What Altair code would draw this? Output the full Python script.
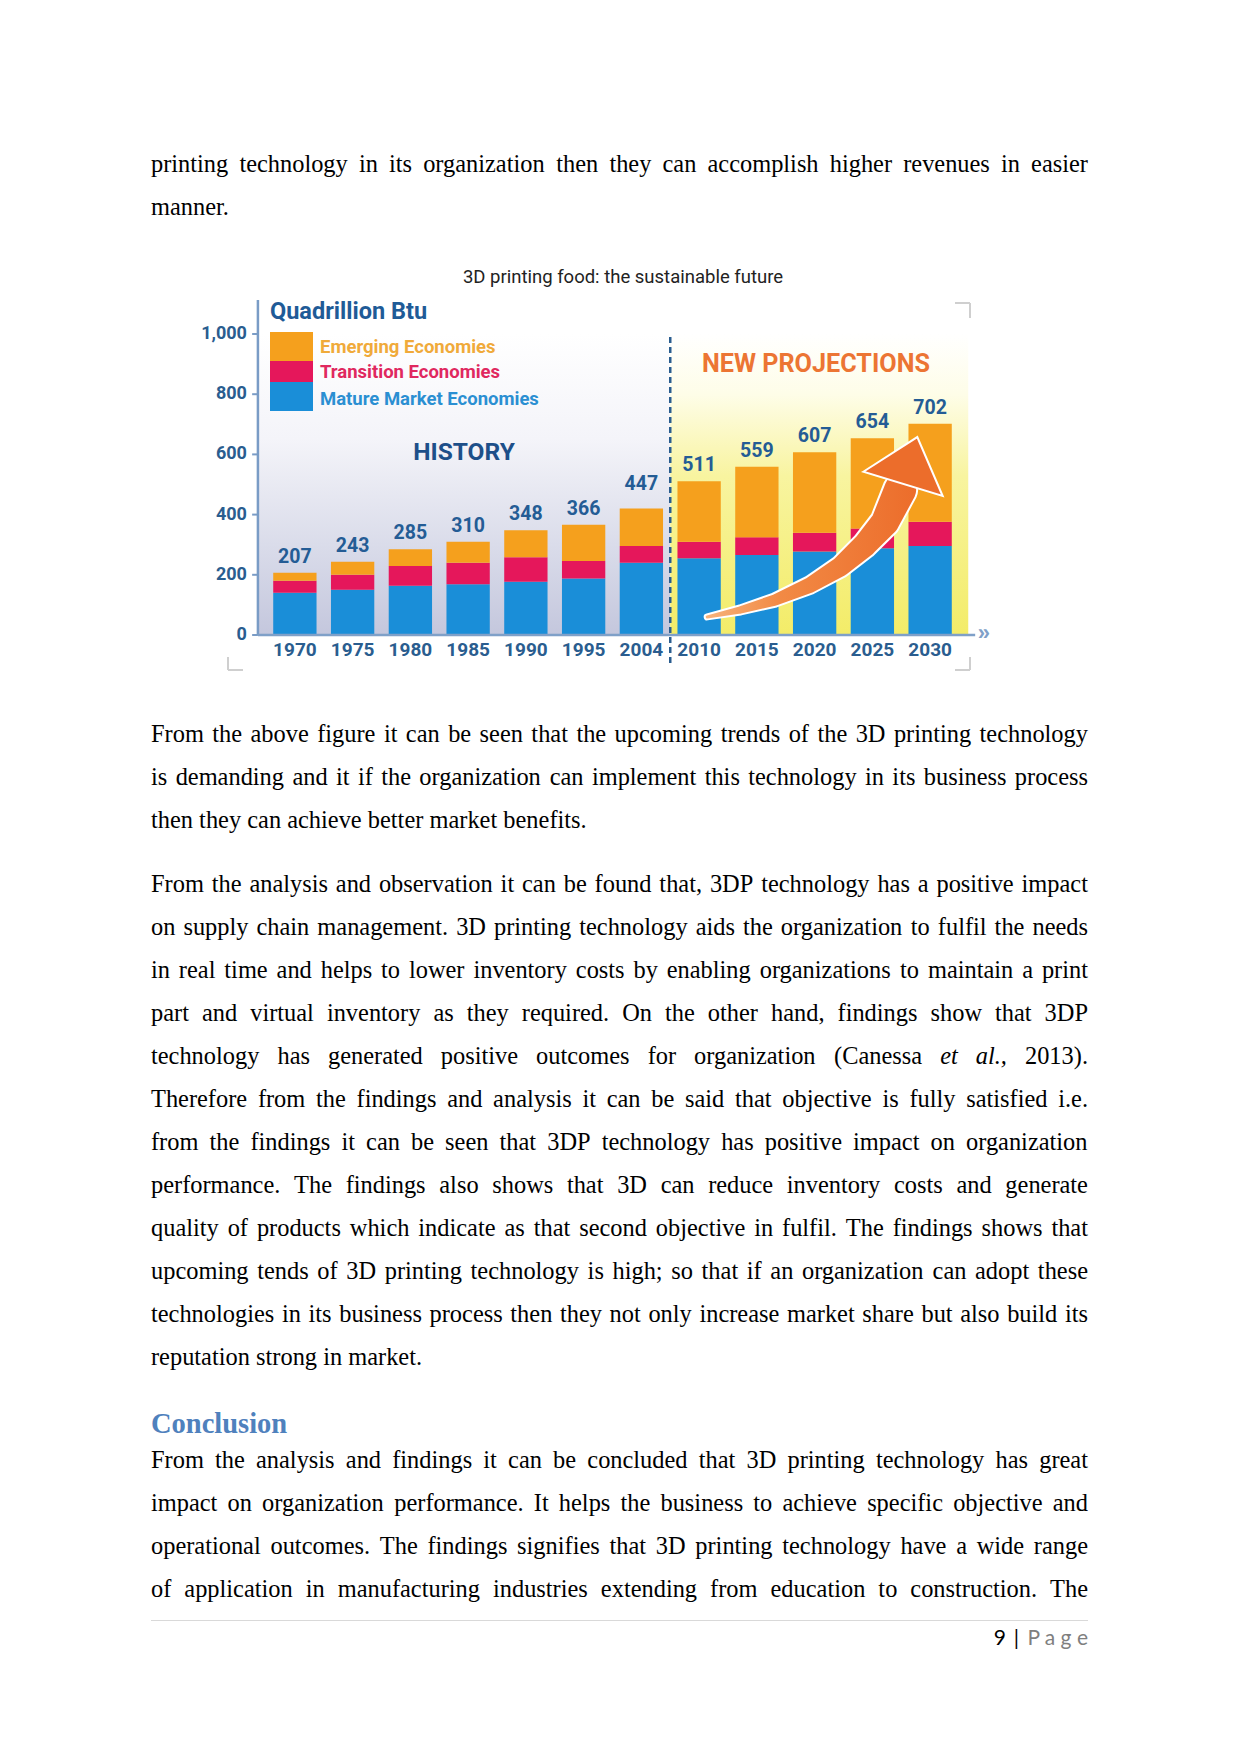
import altair as alt
import pandas as pd
import numpy as np

# ---------------- chart data ----------------
years = ["1970", "1975", "1980", "1985", "1990", "1995", "2004",
         "2010", "2015", "2020", "2025", "2030"]
mature = [140, 150, 164, 169, 177, 188, 240, 255, 266, 277, 288, 296]
transition = [40, 50, 65, 71, 81, 58, 56, 55, 59, 63, 66, 80]
emerging = [27, 43, 56, 70, 90, 120, 124, 201, 234, 267, 300, 326]
totals = [207, 243, 285, 310, 348, 366, 447, 511, 559, 607, 654, 702]
series = ["Emerging Economies", "Transition Economies", "Mature Market Economies"]
series_colors = ["#f5a01d", "#e5175b", "#1a8ed8"]
legend_text_colors = ["#f0aa3a", "#e0285f", "#2b8fd2"]
y_ticks = [0, 200, 400, 600, 800, 1000]
n_history = 7  # bars up to 2004 are history

# decorative arrow path (in bar-index / value units)
arrow_x = [7.14, 7.71, 8.31, 8.92, 9.44, 9.87, 10.22, 10.48]
arrow_y = [60, 83, 116, 166, 226, 299, 375, 482]
arrow_head = (10.53, 502)

# ---------------- document text ----------------
para1 = ["printing technology in its organization then they can accomplish higher revenues in easier",
         "manner."]
para2 = ["From the above figure it can be seen that the upcoming trends of the 3D printing technology",
         "is demanding and it if the organization can implement this technology in its business process",
         "then they can achieve better market benefits."]
para3 = ["From the analysis and observation it can be found that, 3DP technology has a positive impact",
         "on supply chain management. 3D printing technology aids the organization to fulfil the needs",
         "in real time and helps to lower inventory costs by enabling organizations to maintain a print",
         "part and virtual inventory as they required. On the other hand, findings show that 3DP",
         "technology has generated positive outcomes for organization (Canessa *et *al., 2013).",
         "Therefore from the findings and analysis it can be said that objective is fully satisfied i.e.",
         "from the findings it can be seen that 3DP technology has positive impact on organization",
         "performance. The findings also shows that 3D can reduce inventory costs and generate",
         "quality of products which indicate as that second objective in fulfil. The findings shows that",
         "upcoming tends of 3D printing technology is high; so that if an organization can adopt these",
         "technologies in its business process then they not only increase market share but also build its",
         "reputation strong in market."]
heading = "Conclusion"
para4 = ["From the analysis and findings it can be concluded that 3D printing technology has great",
         "impact on organization performance. It helps the business to achieve specific objective and",
         "operational outcomes. The findings signifies that 3D printing technology have a wide range",
         "of application in manufacturing industries extending from education to construction. The"]
page_num = "9"
page_bar = "|"
page_word = "P a g e"
chart_title = "3D printing food: the sustainable future"
unit_title = "Quadrillion Btu"

# ---------------- layout helpers ----------------
W, H = 1225, 1738
def c(p):  # page pixel -> canvas pixel
    return p - 8

NARROW = "Roboto"
SERIF = "Liberation Serif"
LABEL_BLUE = "#245c95"

XS = alt.Scale(domain=[-0.5, 11.5], range=[c(266), c(959)], nice=False, zero=False)
YS = alt.Scale(domain=[0, 1000], range=[c(635), c(334)], nice=False, zero=False)
axis_x = -0.64
split_x = n_history - 0.5
one = pd.DataFrame({"k": [0]})

# ---------------- bar data ----------------
rows = []
for i, (m, t, e) in enumerate(zip(mature, transition, emerging)):
    rows.append(dict(i=i, series=series[2], y0=0, y1=m))
    rows.append(dict(i=i, series=series[1], y0=m, y1=m + t))
    rows.append(dict(i=i, series=series[0], y0=m + t, y1=m + t + e))
bars_df = pd.DataFrame(rows)
bars_df["xl"] = bars_df["i"] - 0.375
bars_df["xr"] = bars_df["i"] + 0.375

lab_df = pd.DataFrame({"i": range(len(years)), "year": years, "total": totals, "base": 0})
tick_df = pd.DataFrame({"v": y_ticks, "lab": [f"{v:,}" for v in y_ticks]})
tick_df["xa"] = axis_x - 0.1
tick_df["xb"] = axis_x

layers = []

# backgrounds
hist_bg = alt.Chart(pd.DataFrame({"x": [axis_x], "x2": [split_x], "y": [0], "y2": [1000]})).mark_rect(
    fill={"gradient": "linear", "x1": 0, "y1": 0, "x2": 0, "y2": 1,
          "stops": [{"offset": 0, "color": "#ffffff"}, {"offset": 0.35, "color": "#f4f4f9"},
                    {"offset": 0.7, "color": "#dadcea"}, {"offset": 1, "color": "#c4c7dd"}]}
).encode(x=alt.X("x:Q", scale=XS, axis=None), x2="x2", y=alt.Y("y:Q", scale=YS, axis=None), y2="y2")
layers.append(hist_bg)

proj_bg = alt.Chart(pd.DataFrame({"x": [split_x], "x2": [11.66], "y": [0], "y2": [1000]})).mark_rect(
    fill={"gradient": "linear", "x1": 0, "y1": 0, "x2": 0, "y2": 1,
          "stops": [{"offset": 0, "color": "#ffffff"}, {"offset": 0.2, "color": "#fefde8"},
                    {"offset": 0.47, "color": "#f8f4a0"}, {"offset": 1, "color": "#f3ec68"}]}
).encode(x=alt.X("x:Q", scale=XS, axis=None), x2="x2", y=alt.Y("y:Q", scale=YS, axis=None), y2="y2")
layers.append(proj_bg)

# bars
bars = alt.Chart(bars_df).mark_rect().encode(
    x=alt.X("xl:Q", scale=XS, axis=None), x2="xr",
    y=alt.Y("y0:Q", scale=YS, axis=None), y2="y1",
    color=alt.Color("series:N", scale=alt.Scale(domain=series, range=series_colors), legend=None),
)
layers.append(bars)

# dashed split line
split = alt.Chart(pd.DataFrame({"x": [split_x], "y": [-93], "y2": [990]})).mark_rule(
    color="#2a5d8f", strokeWidth=2.5, strokeDash=[6, 4]
).encode(x=alt.X("x:Q", scale=XS, axis=None), y=alt.Y("y:Q", scale=YS, axis=None), y2="y2")
layers.append(split)

# arrow
arr_df = pd.DataFrame({"ax": arrow_x, "ay": arrow_y, "k": range(len(arrow_x))})
arr_df["w"] = np.linspace(3, 32, len(arrow_x))
arr_df["w2"] = arr_df["w"] + 4
arrow_out = alt.Chart(arr_df).mark_trail(color="white").encode(
    x=alt.X("ax:Q", scale=XS, axis=None), y=alt.Y("ay:Q", scale=YS, axis=None),
    size=alt.Size("w2:Q", scale=None, legend=None), order="k:O")
arrow = alt.Chart(arr_df).mark_trail(
    color={"gradient": "linear", "x1": 0, "y1": 0, "x2": 1, "y2": 0,
           "stops": [{"offset": 0, "color": "#f6b27a"}, {"offset": 0.35, "color": "#f28a45"},
                     {"offset": 1, "color": "#ec6d2b"}]}
).encode(
    x=alt.X("ax:Q", scale=XS, axis=None), y=alt.Y("ay:Q", scale=YS, axis=None),
    size=alt.Size("w:Q", scale=None, legend=None), order="k:O")
head = alt.Chart(pd.DataFrame({"ax": [arrow_head[0]], "ay": [arrow_head[1]]})).mark_point(
    shape="M-1,0L0,-1.18L1,0Z", size=6889, angle=17, filled=True,
    fill="#ec6d2b", stroke="white", strokeWidth=2, opacity=1
).encode(x=alt.X("ax:Q", scale=XS, axis=None), y=alt.Y("ay:Q", scale=YS, axis=None))
layers += [arrow_out, arrow, head]

# axes
y_axis = alt.Chart(pd.DataFrame({"x": [axis_x], "y": [0], "y2": [1113]})).mark_rule(
    color="#7a9cc6", strokeWidth=2.5
).encode(x=alt.X("x:Q", scale=XS, axis=None), y=alt.Y("y:Q", scale=YS, axis=None), y2="y2")
x_axis = alt.Chart(pd.DataFrame({"x": [axis_x], "x2": [11.78], "y": [0]})).mark_rule(
    color="#7fa0c8", strokeWidth=2.5
).encode(x=alt.X("x:Q", scale=XS, axis=None), x2="x2", y=alt.Y("y:Q", scale=YS, axis=None))
arrow_end = alt.Chart(pd.DataFrame({"x": [11.93], "y": [0], "t": ["»"]})).mark_text(
    color="#7fa0c8", fontSize=22, fontWeight="bold", baseline="middle", dy=-2
).encode(x=alt.X("x:Q", scale=XS, axis=None), y=alt.Y("y:Q", scale=YS, axis=None), text="t:N")
ticks = alt.Chart(tick_df).mark_rule(color="#7a9cc6", strokeWidth=2).encode(
    x=alt.X("xa:Q", scale=XS, axis=None), x2="xb", y=alt.Y("v:Q", scale=YS, axis=None))
tick_labels = alt.Chart(tick_df).mark_text(
    align="right", baseline="middle", dx=-11, font=NARROW, fontSize=18, fontWeight="bold",
    color="#2a5d8f"
).encode(x=alt.X("xb:Q", scale=XS, axis=None), y=alt.Y("v:Q", scale=YS, axis=None), text="lab:N")
year_labels = alt.Chart(lab_df).mark_text(
    baseline="middle", dy=15, font=NARROW, fontSize=19, fontWeight="bold", color="#2a5d8f"
).encode(x=alt.X("i:Q", scale=XS, axis=None), y=alt.Y("base:Q", scale=YS, axis=None), text="year:N")
value_labels = alt.Chart(lab_df).mark_text(
    baseline="middle", dy=-16, font=NARROW, fontSize=19.5, fontWeight="bold", color=LABEL_BLUE
).encode(x=alt.X("i:Q", scale=XS, axis=None), y=alt.Y("total:Q", scale=YS, axis=None), text="total:N")
layers += [y_axis, x_axis, arrow_end, ticks, tick_labels, year_labels, value_labels]

# legend swatches & texts
def box(x1, y1, x2, y2, color):
    return alt.Chart(one).mark_rect(color=color).encode(
        x=alt.value(c(x1)), x2=alt.value(c(x2)), y=alt.value(c(y1)), y2=alt.value(c(y2)))

def txt(s, x, y, size, color, font=NARROW, weight="normal", align="left", baseline="middle", style="normal"):
    return alt.Chart(one).mark_text(
        text=s, align=align, baseline=baseline, font=font, fontSize=size, fontWeight=weight,
        color=color, fontStyle=style
    ).encode(x=alt.value(c(x)), y=alt.value(c(y)))

sw_edges = [332, 361, 382, 411]
for k in range(3):
    layers.append(box(270, sw_edges[k], 313, sw_edges[k + 1], series_colors[k]))
for k, yy in enumerate([347, 372, 399]):
    layers.append(txt(series[k], 320, yy, 18.5, legend_text_colors[k], weight="bold"))

layers.append(txt(chart_title, 623, 277, 18.5, "#222222", align="center"))
layers.append(txt(unit_title, 270, 312, 23.5, "#1f5b97", weight="bold"))
layers.append(txt("HISTORY", 464, 453, 24.5, "#1d4f89", weight="bold", align="center"))
layers.append(txt("NEW PROJECTIONS", 816, 364, 25.2, "#ec7533", weight="bold", align="center"))

# corner brackets
def seg(x1, y1, x2, y2, color="#cfcfcf", width=2):
    return alt.Chart(one).mark_rule(color=color, strokeWidth=width).encode(
        x=alt.value(c(x1)), x2=alt.value(c(x2)), y=alt.value(c(y1)), y2=alt.value(c(y2)))
layers += [seg(955, 303, 970, 303), seg(970, 303, 970, 318),
           seg(228, 657, 228, 670), seg(228, 670, 243, 670),
           seg(970, 657, 970, 670), seg(955, 670, 970, 670)]

# ---------------- justified document text ----------------
TW = {" ": 250, "!": 333, '"': 408, "#": 500, "$": 500, "%": 833, "&": 778, "'": 333, "(": 333, ")": 333,
      "*": 500, "+": 564, ",": 250, "-": 333, ".": 250, "/": 278, ":": 278, ";": 278, "?": 444, "@": 921,
      "A": 722, "B": 667, "C": 667, "D": 722, "E": 611, "F": 556, "G": 722, "H": 722, "I": 333, "J": 389,
      "K": 722, "L": 611, "M": 889, "N": 722, "O": 722, "P": 556, "Q": 722, "R": 667, "S": 556, "T": 611,
      "U": 722, "V": 722, "W": 944, "X": 722, "Y": 722, "Z": 611,
      "a": 444, "b": 500, "c": 444, "d": 500, "e": 444, "f": 333, "g": 500, "h": 500, "i": 278, "j": 278,
      "k": 500, "l": 278, "m": 778, "n": 500, "o": 500, "p": 500, "q": 500, "r": 333, "s": 389, "t": 278,
      "u": 500, "v": 500, "w": 722, "x": 500, "y": 500, "z": 444}
for d in "0123456789":
    TW[d] = 500
TWI = dict(TW)
TWI.update({"a": 500})
FS = 24.4
LEFT, RIGHT = 151, 1088
LINE_H = 43

def word_width(w, italic):
    tab = TWI if italic else TW
    return sum(tab.get(ch, 500) for ch in w) * FS / 1000.0

def layout(lines, first_baseline, last_justified=False):
    out = []
    for li, line in enumerate(lines):
        base = first_baseline + LINE_H * li
        toks = line.split(" ")
        info = []
        for t in toks:
            if t.startswith("*"):
                info.append((t[1:], True))
            else:
                info.append((t, False))
        ws = [word_width(t, it) for t, it in info]
        n = len(toks) - 1
        justify = (li < len(lines) - 1) or last_justified
        gap = (RIGHT - LEFT - sum(ws)) / n if (justify and n > 0) else 250 * FS / 1000.0
        x = LEFT
        for (t, it), w in zip(info, ws):
            out.append(dict(w=t, x=c(x), y=c(base), it=it))
            x += w + gap
    return out

words = []
words += layout(para1, 172)
words += layout(para2, 741.5)
words += layout(para3, 891.5)
words += layout(para4, 1468, last_justified=True)
words_df = pd.DataFrame(words)

for italic in (False, True):
    layers.append(alt.Chart(words_df[words_df["it"] == italic]).mark_text(
        align="left", baseline="alphabetic", font=SERIF, fontSize=FS, color="#000000",
        fontStyle="italic" if italic else "normal"
    ).encode(x=alt.X("x:Q", scale=None, axis=None), y=alt.Y("y:Q", scale=None, axis=None), text="w:N"))

layers.append(txt(heading, 151, 1433, 28.5, "#4f81bd", font=SERIF, weight="bold", baseline="alphabetic"))

# footer
layers.append(seg(151, 1620.5, 1088, 1620.5, color="#d9d9d9", width=1))
layers.append(txt(page_num, 1006, 1645, 21, "#000000", font="Lato", align="right", baseline="alphabetic"))
layers.append(txt(page_bar, 1019, 1645, 21, "#000000", font="Lato", align="right", baseline="alphabetic"))
layers.append(txt(page_word, 1088, 1645, 21, "#7f7f7f", font="Lato", align="right", baseline="alphabetic"))

chart = alt.layer(*layers).properties(
    width=W, height=H, padding=0, background="white",
    autosize=alt.AutoSizeParams(type="none")
).configure_view(stroke=None)

chart.save("out.html", embed_options={"renderer": "svg", "actions": False})
